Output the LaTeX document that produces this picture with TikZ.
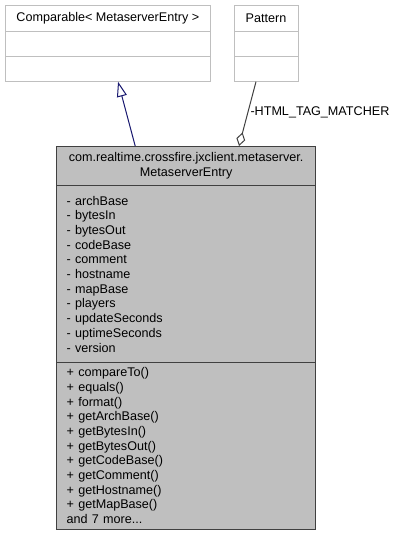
\documentclass[tikz,border=0pt]{standalone}
\usepackage{fontspec}
\setmainfont{Liberation Sans}
\usetikzlibrary{arrows.meta,positioning}

\definecolor{edgegray}{HTML}{BFBFBF}
\definecolor{darkedge}{HTML}{404040}
\definecolor{classfill}{HTML}{BFBFBF}
\definecolor{inhblue}{HTML}{191970}

\begin{document}
\begin{tikzpicture}[x=1pt,y=-1pt,line width=1pt,
    font=\fontsize{12.6}{14.7}\selectfont,
    plainpart/.style={draw=edgegray,fill=white,inner sep=0pt,outer sep=0pt,minimum width=#1},
    mainpart/.style={draw=darkedge,fill=classfill,inner xsep=10pt,inner ysep=0pt,outer sep=0pt,text width=239pt},
    inherit/.style={draw=inhblue,-{Triangle[open,length=15pt,width=10pt]}},
    aggregate/.style={draw=darkedge,{Diamond[open,length=14pt,width=9pt]}-}]
    \useasboundingbox (0,0) rectangle (401,536);

    % base class
    \node[plainpart=205.7pt,minimum height=26.7pt,anchor=north west] (cmpT) at (5,5) {Comparable< MetaserverEntry >};
    \node[plainpart=205.7pt,minimum height=25pt,below=0pt of cmpT] (cmpA) {};
    \node[plainpart=205.7pt,minimum height=25pt,below=0pt of cmpA] (cmpM) {};

    % member type
    \node[plainpart=64pt,minimum height=26.7pt,anchor=north west] (patT) at (234,5) {Pattern};
    \node[plainpart=64pt,minimum height=25pt,below=0pt of patT] (patA) {};
    \node[plainpart=64pt,minimum height=25pt,below=0pt of patA] (patM) {};

    % the class itself
    \node[mainpart,align=center,minimum height=39.7pt,anchor=north west] (entryT) at (56.7,146)
        {com.realtime.crossfire.jxclient.metaserver.\\MetaserverEntry};
    \node[mainpart,align=left,minimum height=176.6pt,below=0pt of entryT] (entryA)
        {- archBase\\- bytesIn\\- bytesOut\\- codeBase\\- comment\\- hostname\\- mapBase\\- players\\- updateSeconds\\- uptimeSeconds\\- version\\[4pt]};
    \node[mainpart,align=left,minimum height=166.7pt,below=0pt of entryA] (entryM)
        {+ compareTo()\\+ equals()\\+ format()\\+ getArchBase()\\+ getBytesIn()\\+ getBytesOut()\\+ getCodeBase()\\+ getComment()\\+ getHostname()\\+ getMapBase()\\and 7 more...};

    \coordinate (inhFrom) at ([xshift=-51pt]entryT.north);
    \coordinate (inhTo)   at ([xshift=10.2pt]cmpM.south);
    \coordinate (aggFrom) at ([xshift=52.8pt]entryT.north);
    \coordinate (aggTo)   at ([xshift=-10pt]patM.south);

    \draw[inherit]   (inhFrom) -- (inhTo);
    \draw[aggregate] (aggFrom) -- node[pos=0.53,right,inner sep=2pt] {-HTML\_TAG\_MATCHER} (aggTo);
\end{tikzpicture}
\end{document}
